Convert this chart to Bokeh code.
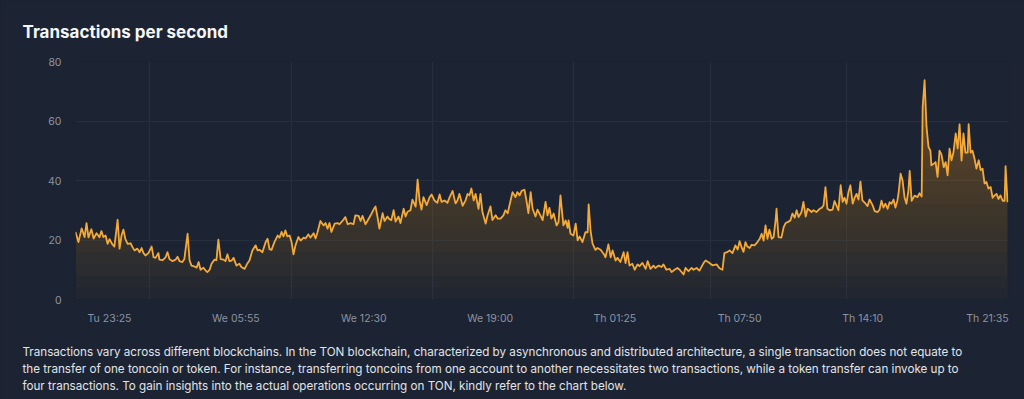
import numpy as np
from bokeh.plotting import figure
from bokeh.models import FixedTicker, Range1d, Title
from bokeh.embed import file_html
from bokeh.resources import INLINE

# ---- data: minutes since Tu 21:40, transactions per second ----
minutes = [
    0, 9, 19, 28, 34, 40, 49, 56, 65, 74, 80, 86, 93, 99, 105, 114, 120, 130, 136, 142,
    148, 154, 161, 170, 176, 182, 191, 198, 204, 210, 216, 225, 235, 241, 247, 256, 259, 269, 278, 284,
    290, 299, 309, 315, 321, 330, 336, 346, 352, 358, 367, 374, 380, 386, 395, 401, 407, 414, 420, 429,
    435, 441, 448, 457, 463, 469, 475, 482,
    488, 497, 506, 512, 522, 531, 537, 546, 556, 562, 568, 577, 587, 593, 599, 605, 614, 624, 630, 636,
    642, 648, 654, 661, 667, 673, 679, 688, 695, 704, 710, 719, 725, 735, 741, 747, 756, 766, 772, 778,
    784, 790, 800, 809, 815, 824, 833, 840, 849, 858, 864, 874, 880, 886, 895, 901, 911, 920, 926, 932,
    938, 948, 954, 963, 969,
    975, 982, 988, 997, 1003, 1013, 1019, 1025, 1034, 1040, 1050, 1056, 1062, 1068, 1074, 1084, 1093, 1099, 1108, 1117,
    1124, 1130, 1139, 1148, 1155, 1164, 1173, 1179, 1185, 1195, 1204, 1210, 1216, 1222, 1229, 1235, 1244, 1250, 1256, 1266,
    1272, 1281, 1287, 1297, 1303, 1312, 1321, 1327, 1334, 1343, 1349, 1358, 1364, 1371, 1377, 1386, 1392, 1398, 1405, 1411,
    1420, 1426, 1435, 1442, 1451, 1457,
    1463, 1469, 1476, 1485, 1491, 1497, 1506, 1513, 1519, 1522, 1528, 1537, 1544, 1550, 1556, 1565, 1574, 1581, 1584, 1590,
    1596, 1605, 1611, 1621, 1630, 1636, 1645, 1652, 1658, 1667, 1673, 1682, 1692, 1698, 1704, 1710, 1719, 1726, 1735, 1741,
    1750, 1760, 1766, 1775, 1784, 1790, 1800, 1809, 1815, 1824, 1834, 1840, 1849, 1858, 1865, 1877, 1883, 1892, 1902, 1908,
    1917, 1926, 1932, 1939, 1945,
    1954, 1966, 1979, 1988, 1997, 2003, 2013, 2019, 2028, 2037, 2044, 2050, 2056, 2062, 2068, 2074, 2081, 2087, 2096, 2105,
    2112, 2118, 2124, 2130, 2136, 2142, 2149, 2155, 2161, 2164, 2170, 2179, 2186, 2192, 2198, 2207, 2213, 2220, 2226, 2232,
    2241, 2247, 2254, 2260, 2266, 2272, 2278, 2287, 2297, 2303, 2309, 2315, 2321, 2328, 2337, 2343, 2349, 2355, 2362, 2368,
    2374, 2380, 2386, 2392, 2399, 2405, 2411, 2417, 2423,
    2429, 2439, 2445, 2451, 2460, 2467, 2476, 2482, 2488, 2494, 2500, 2507, 2513, 2519, 2525, 2531, 2537, 2541, 2547, 2553,
    2559, 2565, 2571, 2575, 2581, 2590, 2599, 2605, 2612, 2615, 2621, 2627, 2633, 2639, 2642, 2649, 2655, 2661, 2667, 2673,
    2680, 2686, 2692, 2698, 2704, 2710, 2717, 2723, 2729, 2735, 2741, 2747, 2754, 2757, 2763, 2769, 2775, 2781, 2788, 2794,
    2800, 2806, 2812, 2818, 2825, 2831, 2837, 2843, 2849, 2855, 2862, 2868, 2871, 2877,
]
tps = [
    22.7, 19.3, 23.9, 21.0, 25.7, 20.9, 23.6, 20.5, 22.3, 20.9, 23.0, 21.0, 21.5, 18.7, 20.3, 18.5, 17.8, 26.8, 17.1, 21.5,
    23.5, 20.3, 18.7, 18.9, 17.6, 16.5, 17.1, 15.9, 17.3, 15.6, 14.8, 15.6, 17.8, 14.2, 14.0, 15.6, 13.4, 13.2, 14.2, 15.9,
    13.6, 12.9, 13.4, 14.4, 12.9, 12.6, 13.6, 22.1, 13.2, 11.4, 11.1, 10.7, 12.6, 10.0, 10.7, 9.8, 9.2, 10.0, 12.0, 13.4,
    13.2, 20.1, 13.6, 13.4, 12.9, 15.2, 12.9, 13.1,
    14.0, 11.4, 12.0, 10.9, 10.3, 12.2, 13.1, 16.5, 18.2, 16.5, 16.7, 15.9, 19.3, 20.4, 16.9, 16.7, 19.3, 21.5, 20.8, 22.7,
    21.2, 23.2, 21.2, 21.5, 19.3, 15.2, 18.2, 21.0, 19.8, 20.8, 20.5, 21.9, 20.8, 22.3, 20.5, 22.6, 26.4, 24.9, 25.7, 23.8,
    25.7, 22.7, 25.5, 25.7, 25.3, 26.4, 27.7, 25.3, 25.7, 25.3, 28.3, 28.1, 26.4, 28.1, 25.3, 26.4, 28.3, 30.2, 31.3, 27.9,
    23.8, 29.0, 26.4, 27.9, 27.0,
    26.7, 30.0, 26.2, 27.9, 25.7, 30.5, 27.9, 29.5, 30.0, 33.6, 31.2, 40.3, 33.3, 30.2, 34.4, 31.7, 34.4, 35.3, 33.3, 32.5,
    35.3, 32.8, 33.3, 32.5, 34.4, 36.5, 32.3, 33.3, 35.5, 31.5, 33.3, 35.5, 35.0, 37.3, 33.3, 35.5, 30.5, 35.5, 29.5, 25.5,
    28.3, 31.3, 26.7, 28.3, 27.2, 27.2, 28.3, 30.0, 29.0, 33.3, 36.1, 34.4, 36.1, 35.0, 36.5, 36.9, 33.3, 29.0, 36.1, 30.5,
    27.9, 30.2, 28.3, 26.7, 32.8, 28.3,
    30.8, 27.2, 28.9, 24.9, 26.0, 35.0, 24.9, 26.6, 24.1, 26.6, 22.1, 21.5, 25.5, 19.9, 21.2, 19.3, 22.6, 22.6, 32.0, 23.1,
    18.8, 16.7, 17.3, 16.7, 15.4, 14.2, 18.5, 14.2, 16.5, 13.1, 14.0, 12.6, 15.9, 12.2, 15.9, 11.4, 12.0, 10.0, 11.8, 11.2,
    12.3, 10.3, 12.9, 10.3, 11.4, 10.6, 11.4, 10.9, 11.8, 10.0, 10.3, 9.2, 10.0, 10.6, 10.0, 8.4, 10.6, 9.5, 10.6, 10.0,
    10.6, 9.7, 10.9, 12.3, 13.1,
    12.5, 11.5, 11.8, 10.5, 10.0, 15.6, 16.0, 16.5, 15.6, 18.2, 16.8, 19.6, 17.6, 16.0, 19.3, 17.8, 17.3, 18.4, 18.2, 19.3,
    20.4, 22.1, 19.8, 24.9, 20.4, 23.5, 20.4, 21.0, 26.6, 30.5, 21.0, 20.8, 24.3, 25.7, 26.0, 26.6, 28.9, 27.5, 30.0, 27.7,
    29.4, 32.8, 27.9, 30.5, 30.0, 29.4, 30.0, 29.4, 30.5, 30.8, 31.6, 37.8, 30.5, 30.0, 30.2, 33.1, 31.6, 30.0, 38.4, 32.8,
    34.2, 32.2, 36.1, 38.4, 32.2, 34.2, 35.5, 33.6, 39.6,
    33.3, 32.2, 31.4, 33.6, 31.8, 29.7, 29.4, 30.2, 33.2, 30.9, 32.2, 30.5, 32.7, 32.2, 33.6, 30.9, 33.2, 36.1, 42.3, 40.0,
    34.4, 32.2, 36.6, 43.2, 33.2, 34.9, 34.4, 35.7, 34.6, 64.7, 73.7, 58.0, 51.3, 50.0, 45.1, 45.6, 46.2, 41.2, 50.0, 48.8,
    44.5, 46.2, 41.7, 50.7, 46.8, 49.4, 55.8, 50.7, 58.9, 46.7, 55.8, 49.4, 49.4, 58.9, 49.4, 50.0, 47.4, 44.0, 46.8, 43.5,
    44.0, 39.0, 39.5, 37.3, 37.8, 34.2, 35.0, 35.5, 33.8, 35.0, 33.2, 33.2, 44.8, 32.7,
]

tick_minutes = [105, 495, 890, 1280, 1665, 2050, 2430, 2815]
tick_labels = ["Tu 23:25", "We 05:55", "We 12:30", "We 19:00", "Th 01:25", "Th 07:50", "Th 14:10", "Th 21:35"]
grid_minutes = [0, 228, 667, 1102, 1537, 1960, 2380, 2880]
y_ticks = [0, 20, 40, 60, 80]

title_text = "Transactions per second"
paragraph_lines = [
    "Transactions vary across different blockchains. In the TON blockchain, characterized by asynchronous and distributed architecture, a single transaction does not equate to",
    "the transfer of one toncoin or token. For instance, transferring toncoins from one account to another necessitates two transactions, while a token transfer can invoke up to",
    "four transactions. To gain insights into the actual operations occurring on TON, kindly refer to the chart below.",
]

BG = "#1c2332"
ORANGE = "#f4aa3a"
GRID = "#262f3d"
AXIS_TXT = "#8c94a2"
TEXT_DX = -53   # text left edge relative to the plot frame

p = figure(width=1024, height=399, output_backend="svg", toolbar_location=None,
           x_range=Range1d(0, 2880), y_range=Range1d(0, 80),
           min_border_left=75, min_border_right=16, min_border_top=61, min_border_bottom=100,
           background_fill_color=BG, border_fill_color=BG, outline_line_color=None)

x = np.array(minutes, dtype=float)
y = np.array(tps, dtype=float)

# vertical gradient fill (stacked translucent layers)
for lv in range(0, 80, 4):
    p.varea(x=x, y1=np.minimum(y, lv), y2=y, fill_color=ORANGE, fill_alpha=0.024)

p.line(x, y, line_color=ORANGE, line_width=1.8, line_join="round")

p.xaxis.ticker = FixedTicker(ticks=tick_minutes)
p.xaxis.major_label_overrides = {tk: lb for tk, lb in zip(tick_minutes, tick_labels)}
p.yaxis.ticker = FixedTicker(ticks=y_ticks)
for ax in (p.xaxis[0], p.yaxis[0]):
    ax.axis_line_color = None
    ax.major_tick_line_color = None
    ax.minor_tick_line_color = None
    ax.major_tick_out = 0
    ax.major_tick_in = 0
    ax.minor_tick_out = 0
    ax.major_label_text_font = "Inter"
    ax.major_label_text_font_size = "10.5px"
    ax.major_label_text_color = AXIS_TXT
p.xaxis.major_label_standoff = 12
p.yaxis.major_label_standoff = 14

p.xgrid.ticker = FixedTicker(ticks=grid_minutes)
p.ygrid.ticker = FixedTicker(ticks=y_ticks)
p.xgrid.grid_line_color = GRID
p.ygrid.grid_line_color = GRID

# title above
p.title.text = title_text
p.title.align = "left"
p.title.offset = TEXT_DX
p.title.standoff = 39
p.title.vertical_align = "bottom"
p.title.text_font = "Inter"
p.title.text_font_size = "17px"
p.title.text_font_style = "bold"
p.title.text_color = "#f4f6f8"

# spacer + paragraph lines below
p.add_layout(Title(text=" ", text_font_size="1px", standoff=12, text_color=BG), "below")
for line in paragraph_lines:
    p.add_layout(Title(text=line, align="left", offset=TEXT_DX, standoff=0.5, vertical_align="bottom",
                       text_font="Inter", text_font_size="11.65px", text_font_style="normal",
                       text_color="#e1e4e9"), "below")

html = file_html(p, INLINE, title="Transactions per second")
html = html.replace("</head>", "<style>html,body{background-color:%s;}</style></head>" % BG, 1)
open("out.html", "w").write(html)
